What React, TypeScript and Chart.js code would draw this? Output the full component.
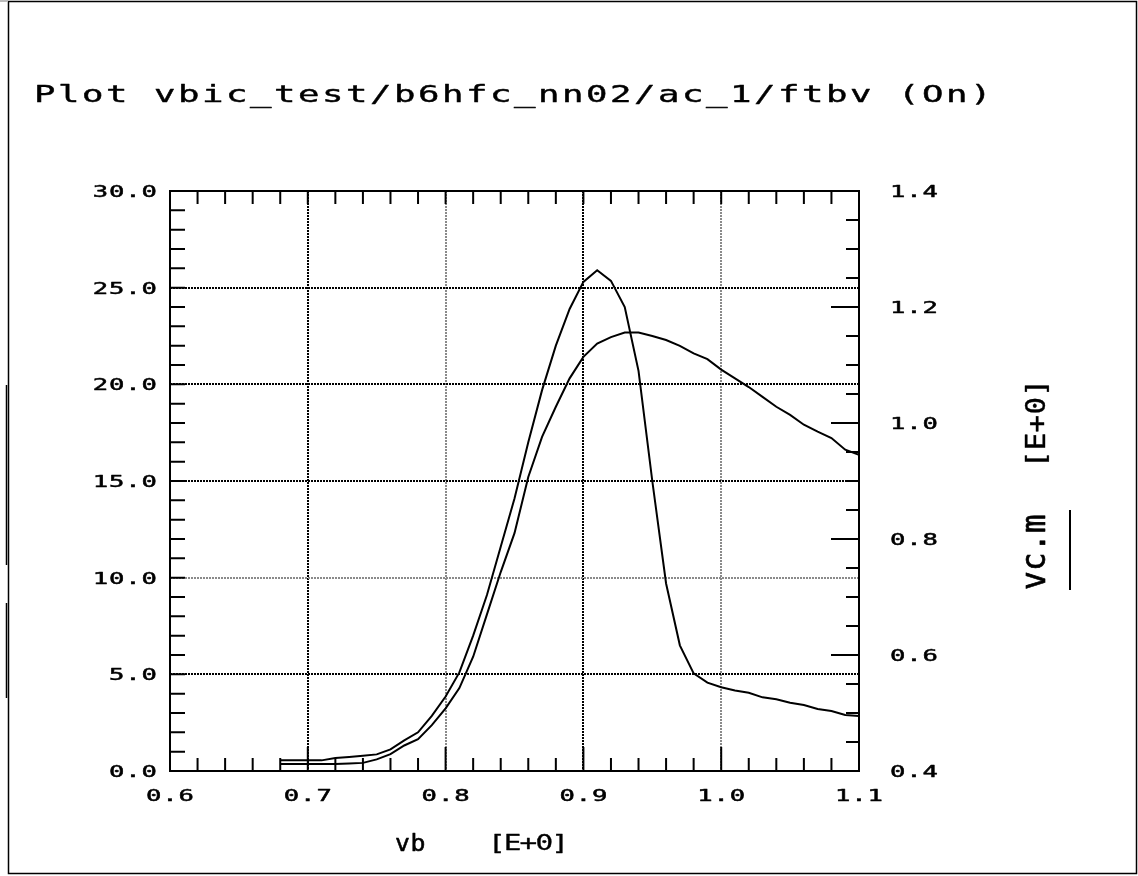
import React, { useEffect, useRef } from 'react';
import { Chart, registerables } from 'chart.js';

Chart.register(...registerables);

// ---- data ----
const vb = [
  0.68, 0.69, 0.7, 0.71, 0.72, 0.73, 0.74, 0.75, 0.76, 0.77, 0.78, 0.79, 0.8, 0.81, 0.82,
  0.83, 0.84, 0.85, 0.86, 0.87, 0.88, 0.89, 0.9, 0.91, 0.92, 0.93, 0.94, 0.95, 0.96, 0.97,
  0.98, 0.99, 1.0, 1.01, 1.02, 1.03, 1.04, 1.05, 1.06, 1.07, 1.08, 1.09, 1.1,
];
// left axis (0 .. 30)
const ftbv = [
  0.55, 0.55, 0.55, 0.55, 0.67, 0.73, 0.79, 0.86, 1.12, 1.58, 2.0, 2.85, 3.85, 5.1, 7.0,
  9.1, 11.6, 14.1, 17.0, 19.7, 22.0, 23.9, 25.3, 25.9, 25.35, 24.0, 20.7, 15.0, 9.7, 6.5,
  5.05, 4.57, 4.33, 4.16, 4.05, 3.81, 3.71, 3.53, 3.41, 3.21, 3.1, 2.9, 2.85,
];
// right axis (0.4 .. 1.4)
const vcm = [
  0.412, 0.412, 0.412, 0.412, 0.412, 0.413, 0.414, 0.42, 0.429, 0.444, 0.455, 0.479, 0.508,
  0.543, 0.597, 0.67, 0.743, 0.81, 0.907, 0.976, 1.028, 1.077, 1.114, 1.137, 1.148, 1.156,
  1.156, 1.15, 1.143, 1.133, 1.12, 1.11, 1.092, 1.077, 1.062, 1.045, 1.028, 1.014, 0.997,
  0.985, 0.974, 0.954, 0.945,
];

const xTickLabels = ['0.6', '0.7', '0.8', '0.9', '1.0', '1.1'];
const yTickLabels = ['0.0', '5.0', '10.0', '15.0', '20.0', '25.0', '30.0'];
const y1TickLabels = ['0.4', '0.6', '0.8', '1.0', '1.2', '1.4'];

const titleText = 'Plot vbic_test/b6hfc_nn02/ac_1/ftbv (On)';
const xTitleName = 'vb';
const xTitleUnit = '[E+0]';
const y1TitleName = 'vc.m';
const y1TitleUnit = '[E+0]';

const FONT = '"DejaVu Sans Mono", "Liberation Mono", monospace';

type TOpts = {
  size: number;
  sx?: number;
  sy?: number;
  adv?: number; // screen advance per character
  align?: 'left' | 'right' | 'center';
  rot?: number;
  bold?: number; // extra stroke width (unscaled units)
};

function drawText(ctx: CanvasRenderingContext2D, text: string, x: number, y: number, o: TOpts) {
  const sx = o.sx ?? 1;
  const sy = o.sy ?? 1;
  ctx.save();
  ctx.font = `${o.size}px ${FONT}`;
  (ctx as any).letterSpacing = '0px';
  const cw = ctx.measureText('0').width;
  const ls = o.adv ? o.adv / sx - cw : 0;
  const n = text.length;
  const w = (n * cw + (n - 1) * ls) * sx;
  ctx.translate(x, y);
  if (o.rot) ctx.rotate(o.rot);
  let x0 = 0;
  if (o.align === 'right') x0 = -w;
  else if (o.align === 'center') x0 = -w / 2;
  ctx.translate(x0, 0);
  ctx.scale(sx, sy);
  (ctx as any).letterSpacing = ls + 'px';
  ctx.textAlign = 'left';
  ctx.textBaseline = 'alphabetic';
  ctx.fillStyle = '#000';
  ctx.fillText(text, 0, 0);
  if (o.bold) {
    ctx.strokeStyle = '#000';
    ctx.lineWidth = o.bold;
    ctx.lineJoin = 'round';
    ctx.strokeText(text, 0, 0);
  }
  ctx.restore();
}

const decor = {
  id: 'decor',
  beforeDraw(chart: any) {
    const ctx = chart.ctx as CanvasRenderingContext2D;
    ctx.save();
    ctx.fillStyle = '#fff';
    ctx.fillRect(0, 0, chart.width, chart.height);
    ctx.restore();
  },
  afterDraw(chart: any) {
    const ctx = chart.ctx as CanvasRenderingContext2D;
    const a = chart.chartArea;
    const { x, y, y1 } = chart.scales;
    ctx.save();
    ctx.setLineDash([]);
    ctx.strokeStyle = '#000';

    // outer page frame
    ctx.lineWidth = 1.5;
    ctx.strokeRect(8.5, 1.5, 1128, 872);
    ctx.fillStyle = '#bbb';
    ctx.fillRect(0, 0, 8, 2);
    ctx.beginPath();
    ctx.moveTo(6.5, 385);
    ctx.lineTo(6.5, 565);
    ctx.moveTo(6.5, 603);
    ctx.lineTo(6.5, 698);
    ctx.stroke();

    // plot frame
    ctx.lineWidth = 2;
    ctx.strokeRect(a.left, a.top, a.right - a.left, a.bottom - a.top);

    // inward ticks
    ctx.beginPath();
    for (let i = 0; i <= 25; i++) {
      const px = x.getPixelForValue(0.6 + i * 0.02);
      const L = i % 5 === 0 ? 24 : 13;
      ctx.moveTo(px, a.bottom);
      ctx.lineTo(px, a.bottom - L);
      ctx.moveTo(px, a.top);
      ctx.lineTo(px, a.top + 13);
    }
    for (let i = 0; i <= 30; i++) {
      const py = y.getPixelForValue(i);
      ctx.moveTo(a.left, py);
      ctx.lineTo(a.left + 15, py);
    }
    for (let i = 0; i <= 20; i++) {
      const py = y1.getPixelForValue(0.4 + i * 0.05);
      const L = i % 4 === 0 ? 28 : 13;
      ctx.moveTo(a.right, py);
      ctx.lineTo(a.right - L, py);
    }
    ctx.stroke();

    // tick labels
    const tick = { size: 16.5, sx: 1.55, adv: 16.3, bold: 0.5 };
    xTickLabels.forEach((t) => {
      drawText(ctx, t, x.getPixelForValue(parseFloat(t)), 801, { ...tick, align: 'center' });
    });
    yTickLabels.forEach((t) => {
      drawText(ctx, t, 157, y.getPixelForValue(parseFloat(t)) + 6, { ...tick, align: 'right' });
    });
    y1TickLabels.forEach((t) => {
      drawText(ctx, t, 890, y1.getPixelForValue(parseFloat(t)) + 6, { ...tick, align: 'left' });
    });

    // title
    drawText(ctx, titleText, 34, 102, { size: 23, sx: 1.55, adv: 24.0, bold: 0.4 });

    // x axis title
    drawText(ctx, xTitleName, 395, 851, { size: 16.5, sx: 1.5, sy: 1.35, adv: 15.5, bold: 0.4 });
    drawText(ctx, xTitleUnit, 488, 850, { size: 21, sx: 1.4, adv: 15.8, bold: 0.3 });

    // right axis title (rotated)
    drawText(ctx, y1TitleName, 1045, 590, { size: 20, sx: 1.55, sy: 1.7, adv: 19, rot: -Math.PI / 2, bold: 0.4 });
    drawText(ctx, y1TitleUnit, 1045, 468, { size: 26, sx: 1.12, adv: 17.8, rot: -Math.PI / 2, bold: 0.4 });

    // line sample next to the right axis title
    ctx.lineWidth = 2;
    ctx.beginPath();
    ctx.moveTo(1070, 510);
    ctx.lineTo(1070, 590);
    ctx.stroke();

    ctx.restore();
  },
};

function gridColor(v: number, dark: number[]): string {
  return dark.includes(v) ? '#000' : '#8a8a8a';
}

export default function App() {
  const ref = useRef<HTMLCanvasElement | null>(null);

  useEffect(() => {
    document.body.style.margin = '0';
    const canvas = ref.current;
    if (!canvas) return;
    const chart = new Chart(canvas, {
      type: 'line',
      data: {
        datasets: [
          {
            label: 'ftbv',
            data: vb.map((v, i) => ({ x: v, y: ftbv[i] })),
            yAxisID: 'y',
            borderColor: '#000',
            borderWidth: 2,
            pointRadius: 0,
            tension: 0,
            fill: false,
          },
          {
            label: 'vc.m',
            data: vb.map((v, i) => ({ x: v, y: vcm[i] })),
            yAxisID: 'y1',
            borderColor: '#000',
            borderWidth: 2,
            pointRadius: 0,
            tension: 0,
            fill: false,
          },
        ],
      },
      options: {
        responsive: false,
        maintainAspectRatio: false,
        devicePixelRatio: 1,
        animation: false,
        layout: { padding: { top: 191, left: 0, right: 0, bottom: 0 } },
        plugins: {
          legend: { display: false },
          tooltip: { enabled: false },
          title: { display: false },
        },
        scales: {
          x: {
            type: 'linear',
            min: 0.6,
            max: 1.1,
            ticks: { stepSize: 0.1, display: false },
            border: { display: false, dash: [2, 1] },
            grid: {
              drawTicks: false,
              lineWidth: 2,
              color: (c: any) => {
                const k = Math.round(c.tick.value * 10);
                if (k === 6 || k === 11) return 'rgba(0,0,0,0)';
                return gridColor(k, [7, 9]);
              },
            },
            afterFit: (s: any) => {
              s.height = 105;
            },
          },
          y: {
            type: 'linear',
            position: 'left',
            min: 0,
            max: 30,
            ticks: { stepSize: 5, display: false },
            border: { display: false, dash: [2, 1] },
            grid: {
              drawTicks: false,
              lineWidth: 2,
              color: (c: any) => {
                const k = Math.round(c.tick.value);
                if (k === 0 || k === 30) return 'rgba(0,0,0,0)';
                return gridColor(k, [5, 15, 20, 25]);
              },
            },
            afterFit: (s: any) => {
              s.width = 170;
            },
          },
          y1: {
            type: 'linear',
            position: 'right',
            min: 0.4,
            max: 1.4,
            ticks: { stepSize: 0.2, display: false },
            border: { display: false },
            grid: { display: false, drawTicks: false },
            afterFit: (s: any) => {
              s.width = 279;
            },
          },
        },
      },
      plugins: [decor],
    } as any);
    return () => chart.destroy();
  }, []);

  return (
    <div style={{ position: 'absolute', left: 0, top: 0, width: 1138, height: 876, background: '#fff' }}>
      <canvas ref={ref} width={1138} height={876} style={{ display: 'block', width: 1138, height: 876 }} />
    </div>
  );
}
